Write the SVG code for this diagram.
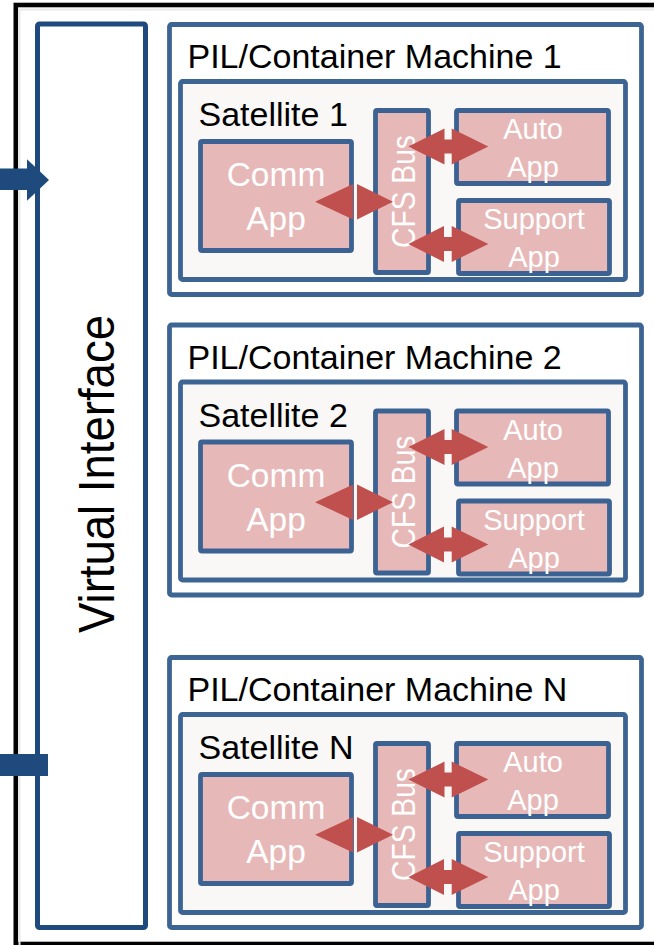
<svg xmlns="http://www.w3.org/2000/svg" width="654" height="945" viewBox="0 0 654 945">
  <style>
    .frame { fill: #ffffff; stroke: #000000; stroke-width: 4.6; }
    .vi { fill: #ffffff; stroke: #1f4a7e; stroke-width: 5; }
    .port { fill: #1f4a7e; }
    .machine { fill: #ffffff; stroke: #3d6594; stroke-width: 4.8; }
    .sat { fill: #f9f8f7; stroke: #3d6594; stroke-width: 4.8; }
    .app { fill: #e6b9b8; stroke: #3b6292; stroke-width: 4.8; }
    .arrow { fill: #c0504d; }
    .t { font-family: "Liberation Sans", Arial, sans-serif; }
    .big { font-size: 34px; fill: #000000; }
    .in { font-size: 33.5px; fill: #ffffff; text-anchor: middle; }
    .small { font-size: 29px; fill: #ffffff; text-anchor: middle; }
  </style>

  <!-- outer frame with a soft inner shade -->
  <rect class="frame" x="15.8" y="5" width="700" height="939" />
  <path d="M19.5 946 V9.5 H660" fill="none" stroke="#e8e8e8" stroke-width="2" />

  <!-- virtual interface column -->
  <g id="virtual-interface">
    <rect class="vi" x="37.5" y="24" width="108" height="903.5" rx="2" />
    <text class="t" x="114" y="474" font-size="50" text-anchor="middle" textLength="318" lengthAdjust="spacingAndGlyphs" transform="rotate(-90 114 474)">Virtual Interface</text>
  </g>

  <!-- machine 1 -->
  <g id="machine-1">
    <rect class="machine" x="169.5" y="24.5" width="472" height="270" rx="2" />
    <text class="t big" x="187.5" y="68">PIL/Container Machine 1</text>
    <g id="satellite-1">
      <rect class="sat" x="180.5" y="81.5" width="445" height="198" rx="2" />
      <text class="t big" x="198.5" y="126">Satellite 1</text>
      <g id="comm-app-1">
        <rect class="app" x="200.5" y="141.5" width="151" height="109" rx="1.5" />
        <text class="t in" x="276" y="186">Comm</text>
        <text class="t in" x="276" y="230">App</text>
      </g>
      <g id="cfs-bus-1">
        <rect class="app" x="375.5" y="110.5" width="53" height="162" rx="1.5" />
        <text class="t in" x="415" y="191.5" textLength="113" lengthAdjust="spacingAndGlyphs" transform="rotate(-90 415 191.5)">CFS Bus</text>
      </g>
      <g id="auto-app-1">
        <rect class="app" x="456.5" y="110.5" width="152" height="73" rx="1.5" />
        <text class="t small" x="533" y="139">Auto</text>
        <text class="t small" x="533" y="177">App</text>
      </g>
      <g id="support-app-1">
        <rect class="app" x="458.5" y="200.5" width="151" height="73" rx="1.5" />
        <text class="t small" x="534" y="229">Support</text>
        <text class="t small" x="534" y="267">App</text>
      </g>
    </g>
  </g>

  <!-- machine 2 -->
  <g id="machine-2" transform="translate(0 300.5)">
    <rect class="machine" x="169.5" y="24.5" width="472" height="270" rx="2" />
    <text class="t big" x="187.5" y="68">PIL/Container Machine 2</text>
    <g id="satellite-2">
      <rect class="sat" x="180.5" y="81.5" width="445" height="198" rx="2" />
      <text class="t big" x="198.5" y="126">Satellite 2</text>
      <g id="comm-app-2">
        <rect class="app" x="200.5" y="141.5" width="151" height="109" rx="1.5" />
        <text class="t in" x="276" y="186">Comm</text>
        <text class="t in" x="276" y="230">App</text>
      </g>
      <g id="cfs-bus-2">
        <rect class="app" x="375.5" y="110.5" width="53" height="162" rx="1.5" />
        <text class="t in" x="415" y="191.5" textLength="113" lengthAdjust="spacingAndGlyphs" transform="rotate(-90 415 191.5)">CFS Bus</text>
      </g>
      <g id="auto-app-2">
        <rect class="app" x="456.5" y="110.5" width="152" height="73" rx="1.5" />
        <text class="t small" x="533" y="139">Auto</text>
        <text class="t small" x="533" y="177">App</text>
      </g>
      <g id="support-app-2">
        <rect class="app" x="458.5" y="200.5" width="151" height="73" rx="1.5" />
        <text class="t small" x="534" y="229">Support</text>
        <text class="t small" x="534" y="267">App</text>
      </g>
    </g>
  </g>

  <!-- machine N -->
  <g id="machine-n" transform="translate(0 633)">
    <rect class="machine" x="169.5" y="24.5" width="472" height="270" rx="2" />
    <text class="t big" x="187.5" y="68">PIL/Container Machine N</text>
    <g id="satellite-n">
      <rect class="sat" x="180.5" y="81.5" width="445" height="198" rx="2" />
      <text class="t big" x="198.5" y="126">Satellite N</text>
      <g id="comm-app-n">
        <rect class="app" x="200.5" y="141.5" width="151" height="109" rx="1.5" />
        <text class="t in" x="276" y="186">Comm</text>
        <text class="t in" x="276" y="230">App</text>
      </g>
      <g id="cfs-bus-n">
        <rect class="app" x="375.5" y="110.5" width="53" height="162" rx="1.5" />
        <text class="t in" x="415" y="191.5" textLength="113" lengthAdjust="spacingAndGlyphs" transform="rotate(-90 415 191.5)">CFS Bus</text>
      </g>
      <g id="auto-app-n">
        <rect class="app" x="456.5" y="110.5" width="152" height="73" rx="1.5" />
        <text class="t small" x="533" y="139">Auto</text>
        <text class="t small" x="533" y="177">App</text>
      </g>
      <g id="support-app-n">
        <rect class="app" x="458.5" y="200.5" width="151" height="73" rx="1.5" />
        <text class="t small" x="534" y="229">Support</text>
        <text class="t small" x="534" y="267">App</text>
      </g>
    </g>
  </g>

  <defs>
    <!-- two-way links between the apps and the bus -->
    <g id="links">
      <path class="arrow" d="M315 201.7 L353 184 L353 219.4 Z M357 184 L393 201.7 L357 219.4 Z" />
      <path class="arrow" d="M408.3 146.6 L444.5 128.6 L444.5 139.6 L451.7 139.6 L451.7 128.6 L488.3 146.6 L451.7 164.6 L451.7 153.6 L444.5 153.6 L444.5 164.6 Z" />
      <path class="arrow" d="M408.3 244 L444 226 L444 237 L451.7 237 L451.7 226 L488.3 244 L451.7 262 L451.7 251 L444 251 L444 262 Z" />
    </g>
  </defs>

  <!-- connectors -->
  <g id="connectors">
    <use href="#links" />
    <use href="#links" transform="translate(0 300.5)" />
    <use href="#links" transform="translate(0 633)" />
    <!-- external ports into the virtual interface -->
    <path class="port" d="M0 168.5 H27 V159.3 L49 180 L27 200.7 V190 H0 Z" />
    <rect class="port" x="0" y="754" width="48" height="22" />
  </g>
</svg>
